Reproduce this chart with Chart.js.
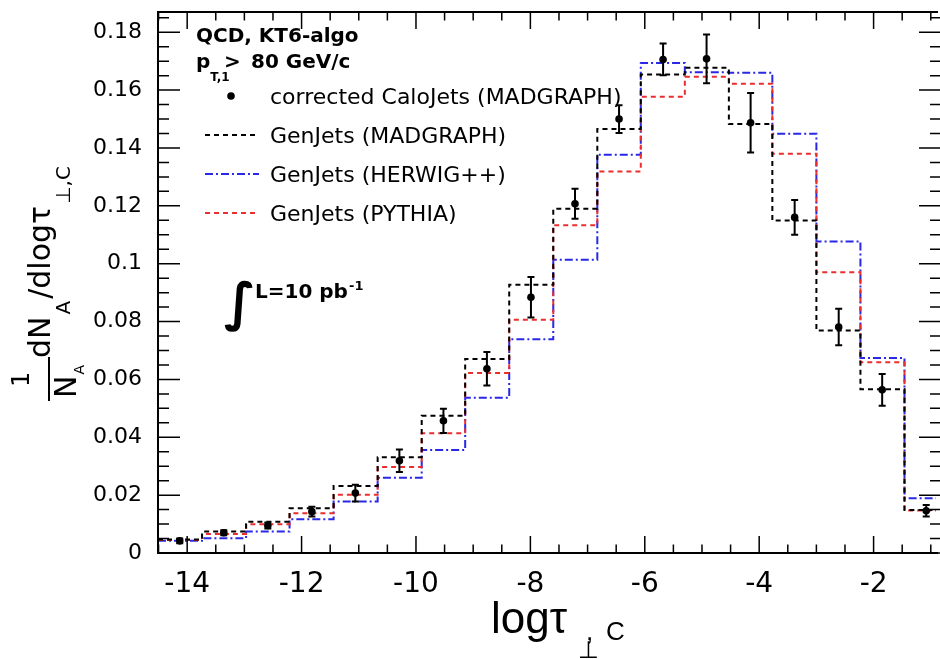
<!DOCTYPE html>
<html>
<head>
<meta charset="utf-8">
<script src="https://cdn.jsdelivr.net/npm/chart.js@4.4.1/dist/chart.umd.min.js"></script>
<style>
    body { margin: 0; background: #fff; }
    canvas { display: block; }
</style>
</head>
<body>
<canvas id="chart" width="940" height="659"></canvas>
<script>
// bins in log(tau_perp,C)
const binEdges = [-14.51, -13.74, -12.97, -12.21, -11.44, -10.67, -9.90, -9.14, -8.37,
    -7.60, -6.83, -6.07, -5.30, -4.53, -3.77, -3.00, -2.23, -1.46, -0.69];
const binCenters = [-14.13, -13.36, -12.59, -11.82, -11.06, -10.29, -9.52, -8.76, -7.99,
    -7.22, -6.45, -5.68, -4.92, -4.15, -3.38, -2.61, -1.85, -1.08];

// corrected CaloJets (MADGRAPH) + stat. errors
const caloJets = [0.0042, 0.0070, 0.0095, 0.0143, 0.0207, 0.0319, 0.0457, 0.0637, 0.0884,
    0.1207, 0.1500, 0.1706, 0.1708, 0.1487, 0.1160, 0.0781, 0.0564, 0.0146];
const caloErr = [0.0008, 0.0009, 0.0010, 0.0017, 0.0029, 0.0039, 0.0042, 0.0058, 0.0070,
    0.0052, 0.0048, 0.0055, 0.0084, 0.0103, 0.0060, 0.0063, 0.0055, 0.0020];

// GenJets
const genMadgraph = [0.0047, 0.0074, 0.0108, 0.0155, 0.0232, 0.0331, 0.0474, 0.0671, 0.0927,
    0.1190, 0.1466, 0.1654, 0.1677, 0.1483, 0.1149, 0.0769, 0.0566, 0.0149];
const genHerwig = [0.0042, 0.0051, 0.0074, 0.0117, 0.0178, 0.0260, 0.0356, 0.0537, 0.0739,
    0.1014, 0.1377, 0.1694, 0.1662, 0.1660, 0.1449, 0.1077, 0.0674, 0.0189];
const genPythia = [0.0045, 0.0066, 0.0099, 0.0137, 0.0201, 0.0297, 0.0414, 0.0622, 0.0806,
    0.1133, 0.1319, 0.1577, 0.1646, 0.1622, 0.1380, 0.0970, 0.0659, 0.0147];

const xTicks = [-14, -12, -10, -8, -6, -4, -2];
const yTicks = [0, 0.02, 0.04, 0.06, 0.08, 0.1, 0.12, 0.14, 0.16, 0.18];

const BLUE = "rgb(40, 40, 230)";
const RED = "rgb(235, 45, 45)";
const DASH = [5, 4];
const DASHDOT = [8, 3, 2, 3];

function histPoints(values) {
    let pts = [];
    for (let i = 0; i < values.length; i++) {
        pts.push({ x: binEdges[i], y: values[i] });
    }
    pts.push({ x: binEdges[binEdges.length - 1], y: values[values.length - 1] });
    return pts;
}

let caloPoints = caloJets.map((v, i) => ({ x: binCenters[i], y: v }));

// text runs, optionally rotated
function drawRuns(ctx, x0, y0, angle, runs) {
    ctx.save();
    ctx.translate(x0, y0);
    ctx.rotate(angle);
    ctx.textBaseline = "alphabetic";
    ctx.textAlign = "left";
    let u = 0;
    runs.forEach(function (r) {
        ctx.font = r.font;
        u += r.gap || 0;
        ctx.fillText(r.text, u, r.shift || 0);
        u += ctx.measureText(r.text).width;
    });
    ctx.restore();
}

const framePlugin = {
    id: "frame",
    afterDatasetsDraw(chart) {
        const ctx = chart.ctx;
        const a = chart.chartArea;
        const x = chart.scales.x;
        const y = chart.scales.y;
        ctx.save();

        // error bars of the data points
        ctx.strokeStyle = "#000";
        ctx.lineWidth = 2;
        caloJets.forEach(function (v, i) {
            let px = x.getPixelForValue(binCenters[i]);
            let lo = y.getPixelForValue(v - caloErr[i]);
            let hi = y.getPixelForValue(v + caloErr[i]);
            ctx.beginPath();
            ctx.moveTo(px, lo); ctx.lineTo(px, hi);
            ctx.moveTo(px - 3.5, lo); ctx.lineTo(px + 3.5, lo);
            ctx.moveTo(px - 3.5, hi); ctx.lineTo(px + 3.5, hi);
            ctx.stroke();
        });

        // ticks inside the frame
        ctx.lineWidth = 1.5;
        ctx.beginPath();
        for (let k = -29; k <= -2; k++) {
            let px = x.getPixelForValue(k / 2);
            let len = (k % 4 === 0) ? 17 : 8.5;
            ctx.moveTo(px, a.bottom); ctx.lineTo(px, a.bottom - len);
            ctx.moveTo(px, a.top); ctx.lineTo(px, a.top + len);
        }
        let rx = a.right + 5;
        for (let k = 0; k <= 37; k++) {
            let py = y.getPixelForValue(k * 0.005);
            let len = (k % 4 === 0) ? 22 : 11;
            ctx.moveTo(a.left, py); ctx.lineTo(a.left + len, py);
            ctx.moveTo(rx, py); ctx.lineTo(rx - len, py);
        }
        ctx.stroke();

        // frame
        ctx.lineWidth = 2;
        ctx.beginPath();
        ctx.moveTo(a.right + 2, a.top);
        ctx.lineTo(a.left, a.top);
        ctx.lineTo(a.left, a.bottom);
        ctx.lineTo(a.right + 2, a.bottom);
        ctx.stroke();
        ctx.restore();
    },
    afterDraw(chart) {
        const ctx = chart.ctx;
        ctx.save();
        ctx.fillStyle = "#000";

        // labels in the top left
        drawRuns(ctx, 196, 42, 0, [{ text: "QCD, KT6-algo", font: "bold 20px 'DejaVu Sans'" }]);
        drawRuns(ctx, 196, 68, 0, [
            { text: "p", font: "bold 20px 'DejaVu Sans'" },
            { text: "T,1", font: "bold 12px 'DejaVu Sans'", shift: 13 }
        ]);
        drawRuns(ctx, 224, 68, 0, [{ text: ">", font: "bold 20px 'DejaVu Sans'" }]);
        drawRuns(ctx, 251, 68, 0, [{ text: "80 GeV/c", font: "bold 20px 'DejaVu Sans'" }]);

        // legend
        let legendFont = "22px 'DejaVu Sans'";
        let rows = [
            { text: "corrected CaloJets (MADGRAPH)", y: 96 },
            { text: "GenJets (MADGRAPH)", y: 135, color: "#000", dash: DASH },
            { text: "GenJets (HERWIG++)", y: 174, color: BLUE, dash: DASHDOT },
            { text: "GenJets (PYTHIA)", y: 213, color: RED, dash: DASH }
        ];
        rows.forEach(function (r) {
            if (r.color) {
                ctx.save();
                ctx.strokeStyle = r.color;
                ctx.lineWidth = 2;
                ctx.setLineDash(r.dash);
                ctx.beginPath();
                ctx.moveTo(205, r.y); ctx.lineTo(259, r.y);
                ctx.stroke();
                ctx.restore();
            } else {
                ctx.beginPath();
                ctx.arc(231, r.y, 3.8, 0, Math.PI * 2);
                ctx.fill();
            }
            drawRuns(ctx, 270, r.y + 8, 0, [{ text: r.text, font: legendFont }]);
        });

        // luminosity
        drawRuns(ctx, 224, 320, 0, [{ text: "∫", font: "bold 52px 'DejaVu Sans'" }]);
        drawRuns(ctx, 255, 298, 0, [{ text: "L=10 pb", font: "bold 20px 'DejaVu Sans'" }]);
        drawRuns(ctx, 349, 290, 0, [{ text: "-1", font: "bold 13px 'DejaVu Sans'" }]);

        // x axis title
        drawRuns(ctx, 491, 633, 0, [{ text: "logτ", font: "44px 'Liberation Sans'" }]);
        drawRuns(ctx, 578, 658, 0, [{ text: "⊥", font: "24px 'DejaVu Sans'" }]);
        drawRuns(ctx, 586, 640, 0, [{ text: ",", font: "26px 'Liberation Sans'" }]);
        drawRuns(ctx, 606, 640, 0, [{ text: "C", font: "26px 'Liberation Sans'" }]);

        // y axis title: 1/N_A dN_A/dlogτ_⊥,C
        let big = "30px 'DejaVu Sans'";
        let sub = "20px 'DejaVu Sans'";
        drawRuns(ctx, 29, 387, -Math.PI / 2, [{ text: "1", font: "24px 'DejaVu Sans'" }]);
        drawRuns(ctx, 76, 398, -Math.PI / 2, [
            { text: "N", font: big },
            { text: "A", font: "14px 'DejaVu Sans'", shift: 8, gap: 1 }
        ]);
        ctx.fillRect(48, 357, 2, 44);
        drawRuns(ctx, 50, 358, -Math.PI / 2, [
            { text: "dN", font: big },
            { text: "A", font: sub, shift: 20, gap: 2 },
            { text: "/dlogτ", font: big, gap: 2 },
            { text: "⊥", font: sub, shift: 20, gap: 2 },
            { text: ",C", font: sub, shift: 20 }
        ]);
        ctx.restore();
    }
};

let canvas = document.getElementById("chart");

let myChart = new Chart(canvas, {
    type: "line",
    data: {
        datasets: [
            {
                label: "corrected CaloJets (MADGRAPH)",
                data: caloPoints,
                showLine: false,
                pointRadius: 3.8,
                pointBackgroundColor: "#000",
                pointBorderWidth: 0,
            },
            {
                label: "GenJets (MADGRAPH)",
                data: histPoints(genMadgraph),
                stepped: "before",
                borderColor: "#000",
                borderWidth: 2,
                borderDash: DASH,
                pointRadius: 0,
                fill: false,
            },
            {
                label: "GenJets (PYTHIA)",
                data: histPoints(genPythia),
                stepped: "before",
                borderColor: RED,
                borderWidth: 2,
                borderDash: DASH,
                pointRadius: 0,
                fill: false,
            },
            {
                label: "GenJets (HERWIG++)",
                data: histPoints(genHerwig),
                stepped: "before",
                borderColor: BLUE,
                borderWidth: 2,
                borderDash: DASHDOT,
                pointRadius: 0,
                fill: false,
            },
        ],
    },
    options: {
        responsive: false,
        animation: false,
        devicePixelRatio: 1,
        layout: { padding: { top: 12, right: 0, bottom: 0, left: 0 } },
        plugins: {
            legend: { display: false },
            tooltip: { enabled: false },
        },
        scales: {
            x: {
                type: "linear",
                min: -14.51,
                max: -0.909,
                grid: { display: false },
                border: { display: false },
                afterBuildTicks: function (s) {
                    s.ticks = xTicks.map((v) => ({ value: v }));
                },
                afterFit: function (s) {
                    s.height = 106;
                    s.paddingLeft = 0;
                    s.paddingRight = 0;
                },
                ticks: {
                    autoSkip: false,
                    maxRotation: 0,
                    padding: 7,
                    color: "#000",
                    font: { family: "DejaVu Sans", size: 28 },
                    callback: (v) => String(v),
                },
            },
            y: {
                min: 0,
                max: 0.187,
                grid: { display: false },
                border: { display: false },
                afterBuildTicks: function (s) {
                    s.ticks = yTicks.map((v) => ({ value: v }));
                },
                afterFit: function (s) {
                    s.width = 158;
                    s.paddingTop = 0;
                    s.paddingBottom = 0;
                },
                ticks: {
                    autoSkip: false,
                    padding: 8,
                    color: "#000",
                    font: { family: "DejaVu Sans", size: 22 },
                    callback: (v) => String(v),
                },
            },
        },
    },
    plugins: [framePlugin],
});
</script>
</body>
</html>
